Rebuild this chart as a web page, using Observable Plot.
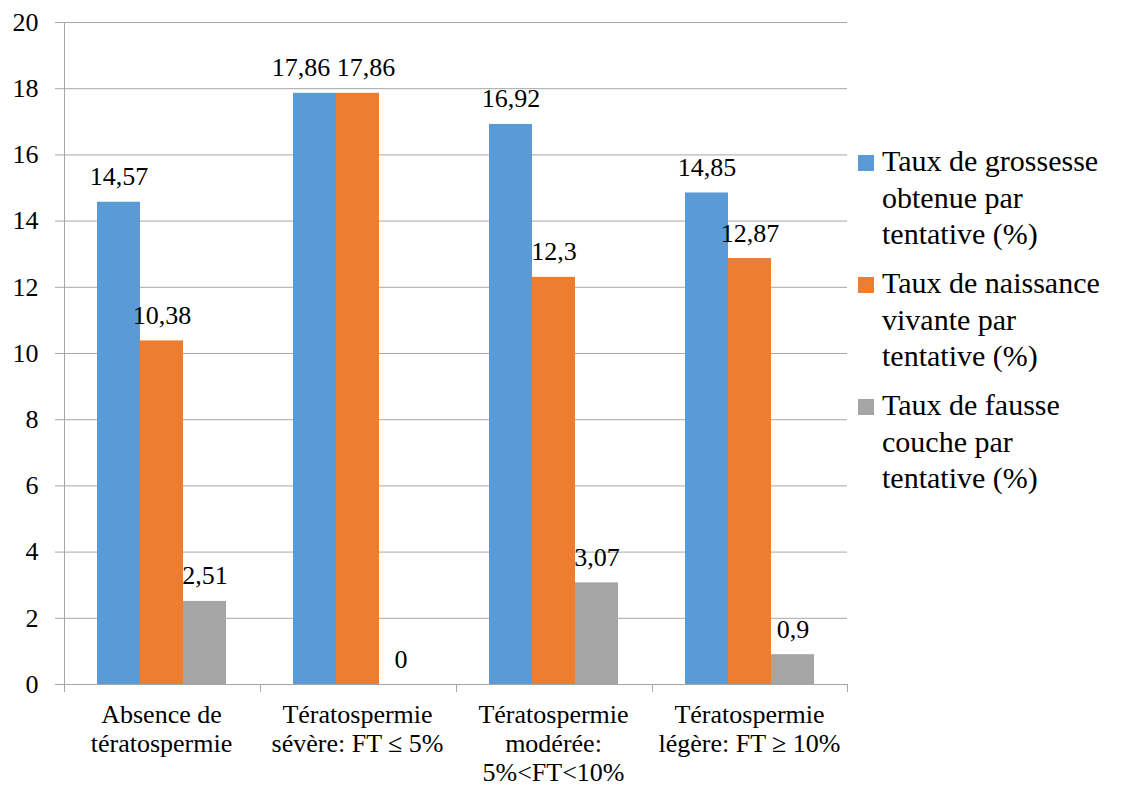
<!DOCTYPE html>
<html>
<head>
<meta charset="utf-8">
<script src="https://cdn.jsdelivr.net/npm/d3@7"></script>
<script src="https://cdn.jsdelivr.net/npm/@observablehq/plot@0.6"></script>
</head>
<body style="margin:0;background:#fff;font-family:'Liberation Serif',serif">
<div id="wrap" style="position:relative;width:1121px;height:787px;font-family:'Liberation Serif',serif"><div id="chart"></div><div id="legend" style="position:absolute;left:858px;top:143px;width:263px"></div></div>
<script>
const categories = [
  "Absence de\ntératospermie",
  "Tératospermie\nsévère: FT ≤ 5%",
  "Tératospermie\nmodérée:\n5%<FT<10%",
  "Tératospermie\nlégère: FT ≥ 10%"
];
const series = [
  "Taux de grossesse obtenue par tentative (%)",
  "Taux de naissance vivante par tentative (%)",
  "Taux de fausse couche par tentative (%)"
];
const grossesse = [14.57, 17.86, 16.92, 14.85];
const naissance = [10.38, 17.86, 12.3, 12.87];
const fausseCouche = [2.51, 0, 3.07, 0.9];
const yTicks = [0, 2, 4, 6, 8, 10, 12, 14, 16, 18, 20];
const colors = ["#5B9BD5", "#ED7D31", "#A5A5A5"];

const valuesBySeries = [grossesse, naissance, fausseCouche];
const data = [];
categories.forEach((c, i) => series.forEach((s, j) => data.push({category: c, series: s, value: valuesBySeries[j][i], ci: i, si: j})));

const axisColor = "#a6a6a6";
const fmt = v => String(v).replace(".", ",");
// the two equal labels of the second group are pushed apart, as in the reference
const isLeftPair = d => d.ci === 1 && d.si === 0;
const isRightPair = d => d.ci === 1 && d.si === 1;
const labelOpts = {fx: "category", x: "series", y: "value", text: d => fmt(d.value), lineAnchor: "bottom", dy: -17, fontSize: 26, fill: "#000"};

const chart = Plot.plot({
  width: 1121,
  height: 787,
  marginLeft: 61,
  marginRight: 273,
  marginTop: 22,
  marginBottom: 103,
  style: {fontFamily: "'Liberation Serif', serif", fontSize: "26px"},
  fx: {domain: categories, paddingInner: 0, paddingOuter: 0, label: null},
  x: {domain: series, paddingInner: 0, paddingOuter: 0.74, axis: null},
  y: {domain: [0, 20], label: null},
  color: {domain: series, range: colors},
  marks: [
    Plot.gridY(yTicks, {stroke: axisColor, strokeOpacity: 1}),
    Plot.axisY(yTicks, {tickSize: 8, tickPadding: 17, fontSize: 26, stroke: axisColor, label: null, tickFormat: d => d}),
    Plot.axisFx({anchor: "bottom", tickSize: 0, tickPadding: 18, fontSize: 26, lineHeight: 1.12, label: null}),
    Plot.barY(data, {fx: "category", x: "series", y: "value", fill: "series", inset: 0}),
    Plot.ruleY([0], {stroke: axisColor}),
    Plot.ruleX([categories[0]], {fx: d => d, x: () => series[0], dx: -54.5, y1: () => 20, y2: () => 0, insetBottom: -8, stroke: axisColor}),
    Plot.ruleX(categories, {fx: d => d, x: () => series[0], dx: -54.5, y1: () => 0, y2: () => 0, insetBottom: -8, stroke: axisColor}),
    Plot.ruleX([categories[categories.length - 1]], {fx: d => d, x: () => series[2], dx: 54.5, y1: () => 0, y2: () => 0, insetBottom: -8, stroke: axisColor}),
    Plot.text(data, {...labelOpts, filter: d => !isLeftPair(d) && !isRightPair(d)}),
    Plot.text(data, {...labelOpts, filter: isLeftPair, dx: -14}),
    Plot.text(data, {...labelOpts, filter: isRightPair, dx: 8})
  ]
});
document.getElementById("chart").appendChild(chart);

const legend = document.getElementById("legend");
series.forEach((s, j) => {
  const item = document.createElement("div");
  item.style.cssText = "display:flex;align-items:flex-start;margin-bottom:12.5px";
  const sw = document.createElement("div");
  sw.style.cssText = "width:16px;height:16px;margin-top:12px;margin-right:8px;flex:none;background:" + colors[j];
  const lab = document.createElement("div");
  lab.style.cssText = "font-family:'Liberation Serif',serif;font-size:30px;line-height:36.5px;width:232px;color:#000";
  lab.textContent = s;
  item.appendChild(sw);
  item.appendChild(lab);
  legend.appendChild(item);
});
</script>
</body>
</html>
